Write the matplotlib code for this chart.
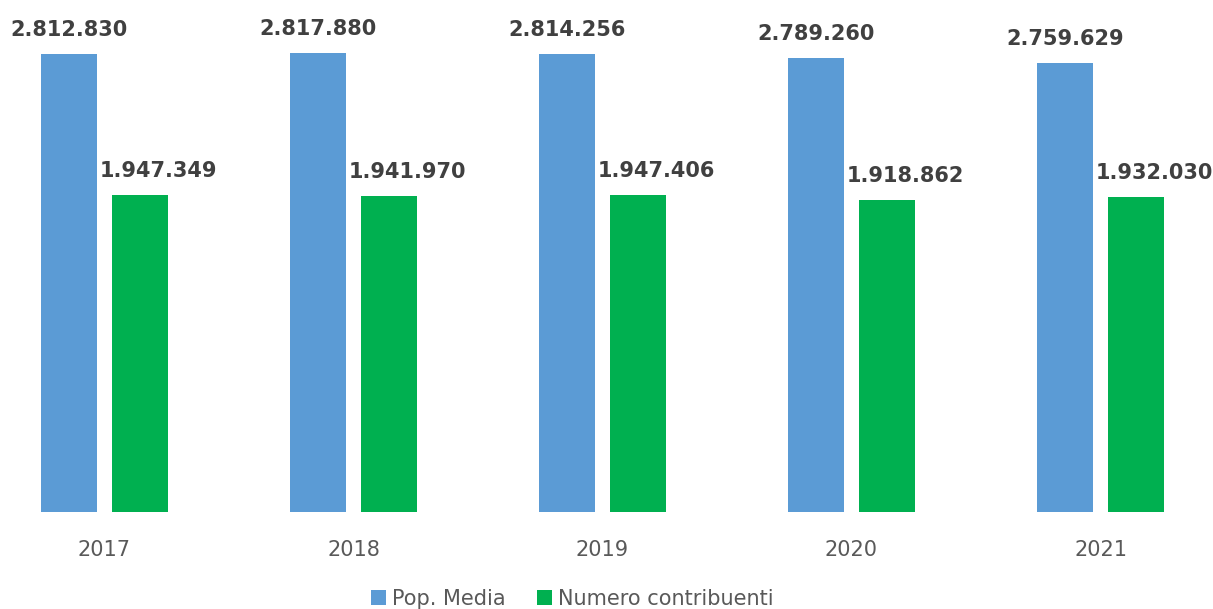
import matplotlib
matplotlib.use("Agg")
import matplotlib.pyplot as plt
import numpy as np

# data
years = ['2017', '2018', '2019', '2020', '2021']
pop_media = [2812830, 2817880, 2814256, 2789260, 2759629]
contribuenti = [1947349, 1941970, 1947406, 1918862, 1932030]


def fmt(v):
    return f'{v:,}'.replace(',', '.')


plt.rcParams['font.family'] = ['DejaVu Sans']

W, H = 1213, 609
fig = plt.figure(figsize=(W / 100, H / 100), dpi=100)
# axes covers the full width, baseline at y=512 px
ax = fig.add_axes([0, (H - 512) / H, 1, 512 / H])

x = np.arange(len(years))
off = 0.1426
bw = 0.225
blue = '#5B9BD5'
green = '#00B050'

b1 = ax.bar(x - off, pop_media, bw, color=blue, label='Pop. Media')
b2 = ax.bar(x + off, contribuenti, bw, color=green, label='Numero contribuenti')

for xi, v in zip(x, pop_media):
    ax.annotate(fmt(v), (xi - off, v), xytext=(0, 13), textcoords='offset points',
                ha='center', va='baseline', fontsize=15, fontweight='bold', color='#404040')
for xi, v in zip(x, contribuenti):
    ax.annotate(fmt(v), (xi + off + 0.075, v), xytext=(0, 13), textcoords='offset points',
                ha='center', va='baseline', fontsize=15, fontweight='bold', color='#404040')

ax.set_xlim(-104.5 / 249, (W - 104.5) / 249)
ax.set_ylim(0, 2812830 * 512 / 458)
ax.set_xticks(x)
ax.set_xticklabels(years, fontsize=15, color='#595959')
ax.tick_params(axis='x', length=0, pad=20)
ax.set_yticks([])
for s in ax.spines.values():
    s.set_visible(False)

fig.legend(handles=[b1, b2], loc='lower center', bbox_to_anchor=(0.472, -0.03), ncol=2,
           frameon=False, fontsize=15, handlelength=0.7, handleheight=0.7,
           handletextpad=0.3, columnspacing=1.5, labelcolor='#595959')

fig.savefig('out.png', dpi=100)
